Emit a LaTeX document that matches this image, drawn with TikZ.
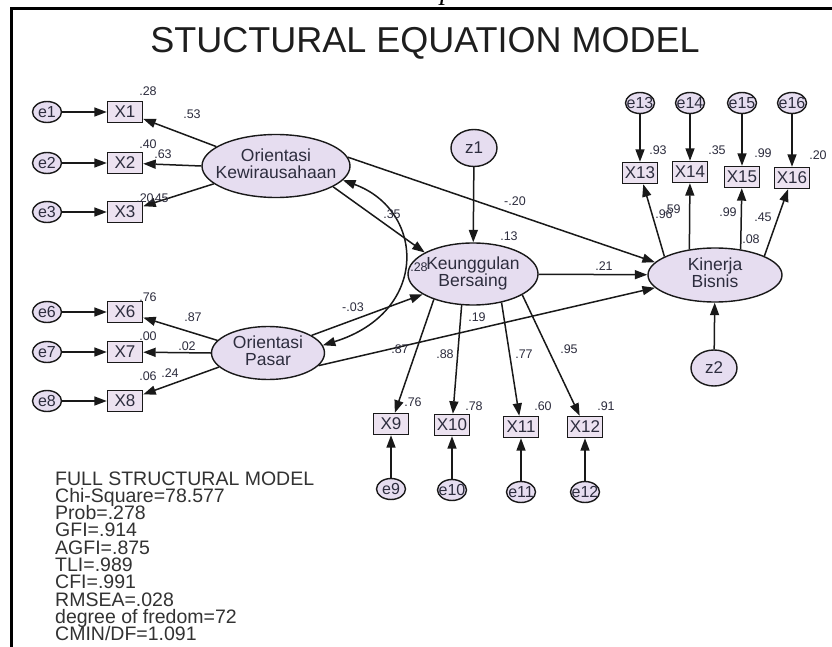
\documentclass[tikz,border=0pt]{standalone}
\usepackage{fontspec}
\setmainfont{Liberation Sans}
\newfontfamily\pserif{Liberation Serif}
\usetikzlibrary{shapes.geometric,arrows.meta}
\definecolor{latfill}{RGB}{230,221,240}
\definecolor{obsfill}{RGB}{236,226,240}
\definecolor{ink}{RGB}{25,25,25}
\definecolor{txt}{RGB}{45,45,62}
\definecolor{stattxt}{RGB}{50,50,50}
\newcommand{\twol}[2]{\makebox[0pt]{\begin{tabular}{@{}c@{}}#1\\#2\end{tabular}}}
\newcommand{\onel}[1]{\makebox[0pt]{#1}}
\begin{document}
\begin{tikzpicture}[x=1pt,y=-1pt,
  lat/.style={ellipse,draw=ink,line width=1.4pt,fill=latfill,inner sep=0pt,font=\fontsize{17.5}{16}\selectfont,text=txt},
  obs/.style={rectangle,draw=ink,line width=1.4pt,fill=obsfill,inner sep=0pt,minimum width=35pt,minimum height=21pt,font=\fontsize{17}{17}\selectfont,text=txt},
  err/.style={ellipse,draw=ink,line width=1.4pt,fill=latfill,inner sep=0pt,minimum width=29pt,minimum height=21pt,font=\fontsize{16}{16}\selectfont,text=txt},
  lbl/.style={inner sep=0pt,font=\fontsize{12.5}{12.5}\selectfont,text=txt},
  stat/.style={inner sep=0pt,anchor=base west,font=\fontsize{19.5}{19.5}\selectfont,text=stattxt},
  arr/.style={draw=ink,line width=1.5pt,-{Triangle[length=12.5pt,width=9pt]}},
  arrtwo/.style={draw=ink,line width=1.5pt,{Triangle[length=12.5pt,width=9pt]}-{Triangle[length=12.5pt,width=9pt]}},
]
\useasboundingbox (0,0) rectangle (832,647);
\fill[white] (0,0) rectangle (832,647);
% page fragment and frame
\begin{scope}
\clip (0,0) rectangle (832,647);
\node[font=\pserif\itshape\fontsize{28}{28}\selectfont,anchor=base,inner sep=0pt] (pglyph) at (447,0) {p};
\end{scope}
\draw[line width=2.5pt,black] (11.5,647) -- (11.5,8.3) -- (832,8.3);
% title
\node[font=\fontsize{36}{36}\selectfont,anchor=base,inner sep=0pt,text={rgb,255:red,30;green,30;blue,30}] (title) at (425,53) {STUCTURAL EQUATION MODEL};

% latent variables
\node[lat,minimum width=148pt,minimum height=63pt] (OK) at (276,166) {\twol{Orientasi}{Kewirausahaan}};
\node[lat,minimum width=113pt,minimum height=53pt] (OP) at (268,353) {\twol{Orientasi}{Pasar}};
\node[lat,minimum width=130pt,minimum height=62pt] (KB) at (473,274) {\twol{Keunggulan}{Bersaing}};
\node[lat,minimum width=134pt,minimum height=54pt] (KIN) at (715,275) {\twol{Kinerja}{Bisnis}};
\node[err,minimum width=46pt,minimum height=37pt,font=\fontsize{17}{17}\selectfont] (z1) at (474,148) {\onel{z1}};
\node[err,minimum width=46pt,minimum height=36pt,font=\fontsize{17}{17}\selectfont] (z2) at (714,368) {\onel{z2}};

% indicators, left
\node[obs] (X1) at (125,112) {X1};
\node[obs] (X2) at (125,163) {X2};
\node[obs] (X3) at (125,212) {X3};
\node[obs] (X6) at (125,312) {X6};
\node[obs] (X7) at (125,352) {X7};
\node[obs] (X8) at (125,401) {X8};
\node[err] (e1) at (47,112) {\onel{e1}};
\node[err] (e2) at (47,163) {\onel{e2}};
\node[err] (e3) at (47,212) {\onel{e3}};
\node[err] (e6) at (47,312) {\onel{e6}};
\node[err] (e7) at (47,352) {\onel{e7}};
\node[err] (e8) at (47,401) {\onel{e8}};
% indicators, bottom
\node[obs] (X9) at (391,424) {X9};
\node[obs] (X10) at (452,425) {X10};
\node[obs] (X11) at (521,427) {X11};
\node[obs] (X12) at (585,427) {X12};
\node[err] (e9) at (391,489) {\onel{e9}};
\node[err] (e10) at (452,490) {\onel{e10}};
\node[err] (e11) at (521,492) {\onel{e11}};
\node[err] (e12) at (585,492) {\onel{e12}};
% indicators, top right
\node[obs] (X13) at (640,173) {X13};
\node[obs] (X14) at (690,172) {X14};
\node[obs] (X15) at (742,177) {X15};
\node[obs] (X16) at (792,178) {X16};
\node[err] (e13) at (640,103) {\onel{e13}};
\node[err] (e14) at (690,103) {\onel{e14}};
\node[err] (e15) at (742,103) {\onel{e15}};
\node[err] (e16) at (792,103) {\onel{e16}};

% error arrows
\foreach \n in {1,2,3,6,7,8,9,10,11,12,13,14,15,16} \draw[arr] (e\n) -- (X\n);
\draw[arr] (z1) -- (KB);
\draw[arr] (z2) -- (KIN);

% loadings
\draw[arr] (OK.162) -- (X1);
\draw[arr] (OK.180) -- (X2);
\draw[arr] (OK.196) -- (X3);
\draw[arr] (OP.166) -- (X6);
\draw[arr] (OP.180) -- (X7);
\draw[arr] (OP.196) -- (X8);
\draw[arr] (KB.213) -- (X9);
\draw[arr] (KB.250) -- (X10);
\draw[arr] (KB.315) -- (X11);
\draw[arr] (KB.337) -- (X12);
\draw[arr] (KIN.160) -- (X13);
\draw[arr] (KIN.135) -- (X14);
\draw[arr] (KIN.45) -- (X15);
\draw[arr] (KIN.21) -- (X16);

% structural paths
\draw[arr] (OK.-20) -- (KB.156);
\draw[arr] (OK.7) -- (KIN.168);
\draw[arr] (OP.22) -- (KB.202);
\draw[arr] (OP.-14) -- (KIN.192);
\draw[arr] (KB) -- (KIN);
\draw[arrtwo] (OK.-12) .. controls (425,210) and (430,312) .. (OP.8);

% coefficient labels
\node[lbl] (l1) at (148,91) {.28};
\node[lbl] (l2) at (192,114) {.53};
\node[lbl] (l3) at (148,144) {.40};
\node[lbl] (l4) at (163,154) {.63};
\node[lbl] (l5) at (145,198) {.20};
\node[lbl] (l6) at (160,198) {.45};
\node[lbl] (l7) at (148,297) {.76};
\node[lbl] (l8) at (193,317) {.87};
\node[lbl] (l9) at (148,336) {.00};
\node[lbl] (l10) at (187,346) {.02};
\node[lbl] (l11) at (148,376) {.06};
\node[lbl] (l12) at (170,373) {.24};
\node[lbl] (l13) at (392,214) {.35};
\node[lbl] (l14) at (353,307) {-.03};
\node[lbl] (l15) at (400,349) {.87};
\node[lbl] (l16) at (419,267) {.28};
\node[lbl] (l17) at (509,236) {.13};
\node[lbl] (l18) at (515,201) {-.20};
\node[lbl] (l19) at (604,266) {.21};
\node[lbl] (l20) at (477,317) {.19};
\node[lbl] (l21) at (445,354) {.88};
\node[lbl] (l22) at (524,354) {.77};
\node[lbl] (l23) at (569,349) {.95};
\node[lbl] (l24) at (413,402) {.76};
\node[lbl] (l25) at (474,406) {.78};
\node[lbl] (l26) at (543,406) {.60};
\node[lbl] (l27) at (606,406) {.91};
\node[lbl] (l28) at (658,150) {.93};
\node[lbl] (l29) at (717,150) {.35};
\node[lbl] (l30) at (763,153) {.99};
\node[lbl] (l31) at (818,155) {.20};
\node[lbl] (l32) at (664,214) {.96};
\node[lbl] (l33) at (672,209) {.59};
\node[lbl] (l34) at (728,212) {.99};
\node[lbl] (l35) at (763,217) {.45};
\node[lbl] (l36) at (751,239) {.08};

% fit statistics
\foreach \t [count=\i] in {FULL STRUCTURAL MODEL,Chi-Square=78.577,Prob=.278,GFI=.914,AGFI=.875,TLI=.989,CFI=.991,RMSEA=.028,degree of fredom=72,CMIN/DF=1.091}
  \node[stat] (s\i) at (55,{485+17.3*(\i-1)}) {\t};
\end{tikzpicture}
\end{document}
